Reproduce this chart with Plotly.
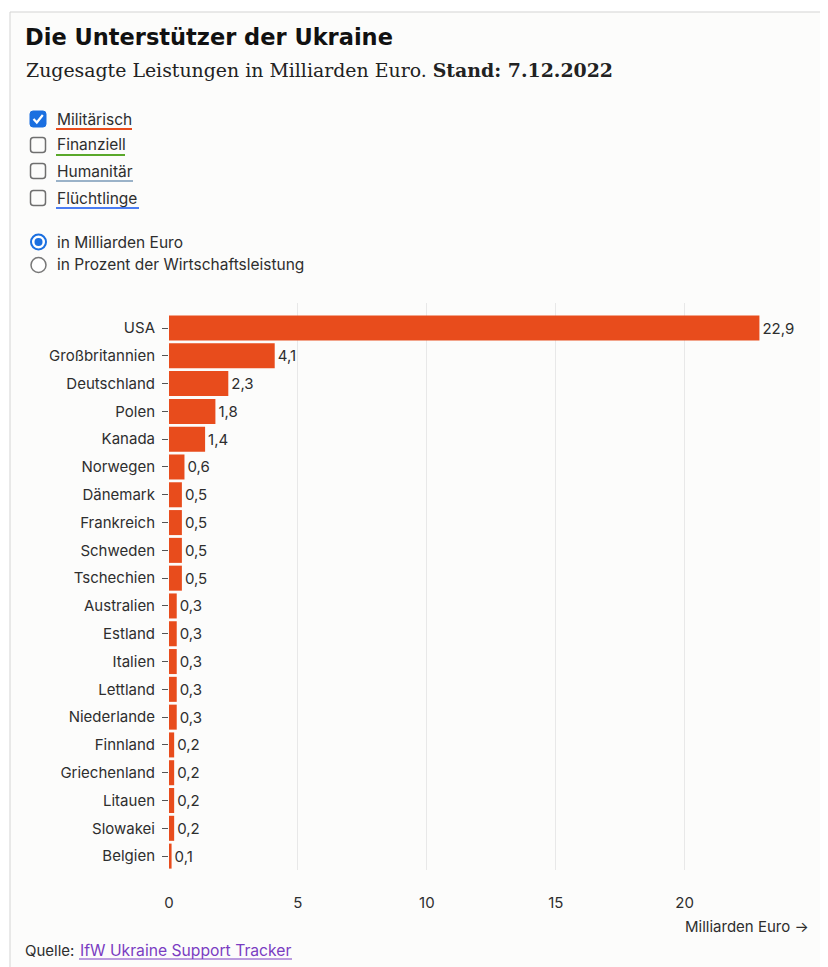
import plotly.graph_objects as go

countries = ["USA", "Großbritannien", "Deutschland", "Polen", "Kanada", "Norwegen",
             "Dänemark", "Frankreich", "Schweden", "Tschechien", "Australien", "Estland",
             "Italien", "Lettland", "Niederlande", "Finnland", "Griechenland", "Litauen",
             "Slowakei", "Belgien"]
values = [22.9, 4.1, 2.3, 1.8, 1.4, 0.6, 0.5, 0.5, 0.5, 0.5, 0.3, 0.3, 0.3, 0.3, 0.3,
          0.2, 0.2, 0.2, 0.2, 0.1]
x_ticks = [0, 5, 10, 15, 20]
categories_legend = ["Militärisch", "Finanziell", "Humanitär", "Flüchtlinge"]
radio_options = ["in Milliarden Euro", "in Prozent der Wirtschaftsleistung"]

OFF = 8  # page body margin
W, H = 828 - OFF, 967 - OFF
ML, MR, MT, MB = 169 - OFF, 828 - 762, 303 - OFF, 967 - 870
PW, PH = W - ML - MR, H - MT - MB

def px(x):
    return (x - OFF - ML) / PW

def py(y):
    return 1 - (y - OFF - MT) / PH

FONT = "Inter, Roboto, sans-serif"
BAR = "#e84c1c"
TXT = "#2e2e2e"

labels = [f"{v:.1f}".replace(".", ",") for v in values]

fig = go.Figure(go.Bar(
    x=values, y=countries, orientation="h",
    marker=dict(color=BAR, line=dict(width=0)),
    text=labels, textposition="outside", cliponaxis=False,
    textfont=dict(family=FONT, size=15, color=TXT),
    width=0.9,
))

shapes = []
annotations = []

# card background
shapes.append(dict(type="rect", xref="paper", yref="paper", layer="below",
                   x0=px(10), x1=px(840), y0=py(12), y1=py(990),
                   fillcolor="#fcfcfb", line=dict(color="#d3d3d3", width=1)))

def txt(x, y, s, size=14, color=TXT, family=FONT, anchor="left"):
    annotations.append(dict(xref="paper", yref="paper", x=px(x), y=py(y), text=s,
                            showarrow=False, xanchor=anchor, yanchor="middle",
                            font=dict(family=family, size=size, color=color)))

def rrect(x0, y0, x1, y1, r, fill, line, lw):
    p = (f"M {px(x0+r)},{py(y0)} L {px(x1-r)},{py(y0)} Q {px(x1)},{py(y0)} {px(x1)},{py(y0+r)} "
         f"L {px(x1)},{py(y1-r)} Q {px(x1)},{py(y1)} {px(x1-r)},{py(y1)} "
         f"L {px(x0+r)},{py(y1)} Q {px(x0)},{py(y1)} {px(x0)},{py(y1-r)} "
         f"L {px(x0)},{py(y0+r)} Q {px(x0)},{py(y0)} {px(x0+r)},{py(y0)} Z")
    shapes.append(dict(type="path", xref="paper", yref="paper", path=p,
                       fillcolor=fill, line=dict(color=line, width=lw)))

# Title and subtitle
txt(23, 37, "<b>Die Unterstützer der Ukraine</b>", size=22.5, color="#111111",
    family="DejaVu Sans, sans-serif")
txt(24, 70, "Zugesagte Leistungen in Milliarden Euro. <b>Stand: 7.12.2022</b>", size=18.9,
    color="#222222", family="DejaVu Serif, serif")

# Checkboxes
cb_y = [119, 145, 171, 198]
cb_under = ["#e84c1c", "#5aa82a", "#9ab2c8", "#4a7cf2"]
cb_widths = [76, 69, 77, 83]
for i, (name, yy, col, w) in enumerate(zip(categories_legend, cb_y, cb_under, cb_widths)):
    if i == 0:
        rrect(30, yy - 8, 46, yy + 8, 3, "#1a6fe0", "#1a6fe0", 1)
        shapes.append(dict(type="path", xref="paper", yref="paper",
                           path=f"M {px(33.5)},{py(yy)} L {px(36.8)},{py(yy+3.5)} L {px(42.8)},{py(yy-4)}",
                           line=dict(color="white", width=2.2)))
    else:
        rrect(30.5, yy - 7.5, 45.5, yy + 7.5, 3, "rgba(255,255,255,0)", "#6f6f6f", 1.5)
    txt(55, yy, name, size=15.5)
    shapes.append(dict(type="line", xref="paper", yref="paper",
                       x0=px(56), x1=px(56 + w), y0=py(yy + 10), y1=py(yy + 10),
                       line=dict(color=col, width=2)))

# Radio buttons
rad_y = [242, 265]
for i, (name, yy) in enumerate(zip(radio_options, rad_y)):
    if i == 0:
        shapes.append(dict(type="circle", xref="paper", yref="paper",
                           x0=px(31), x1=px(46), y0=py(yy - 7.5), y1=py(yy + 7.5),
                           fillcolor="white", line=dict(color="#1a6fe0", width=2)))
        shapes.append(dict(type="circle", xref="paper", yref="paper",
                           x0=px(34.5), x1=px(42.5), y0=py(yy - 4), y1=py(yy + 4),
                           fillcolor="#1a6fe0", line=dict(width=0)))
    else:
        shapes.append(dict(type="circle", xref="paper", yref="paper",
                           x0=px(31), x1=px(46), y0=py(yy - 7.5), y1=py(yy + 7.5),
                           fillcolor="white", line=dict(color="#777777", width=1.5)))
    txt(55, yy, name, size=15.5)

# axis label
txt(811, 926, "Milliarden Euro →", size=15, anchor="right")

# Source
txt(23, 950, "Quelle:", size=15)
txt(78, 950, "IfW Ukraine Support Tracker", size=15.7, color="#7a3cc2")
shapes.append(dict(type="line", xref="paper", yref="paper",
                   x0=px(79), x1=px(292), y0=py(959), y1=py(959),
                   line=dict(color="#7a3cc2", width=1)))

fig.update_layout(
    width=W, height=H,
    margin=dict(l=ML, r=MR, t=MT, b=MB, pad=0),
    paper_bgcolor="white", plot_bgcolor="rgba(0,0,0,0)",
    showlegend=False,
    shapes=shapes, annotations=annotations,
    font=dict(family=FONT, size=15, color=TXT),
    xaxis=dict(range=[0, 23], tickvals=x_ticks, ticktext=[str(t) for t in x_ticks],
               showgrid=True, gridcolor="#e8e8e8", gridwidth=1, zeroline=False,
               showline=False, ticks="outside", ticklen=19, tickcolor="rgba(0,0,0,0)",
               tickfont=dict(family=FONT, size=15, color=TXT), fixedrange=True),
    yaxis=dict(type="category", categoryorder="array", categoryarray=countries,
               range=[19.5, -0.9], showgrid=False, zeroline=False, showline=False,
               ticks="outside", ticklen=6, tickcolor="#555555", tickwidth=1,
               ticklabelstandoff=4,
               tickfont=dict(family=FONT, size=15, color=TXT), fixedrange=True),
)

fig.write_html("out.html")
